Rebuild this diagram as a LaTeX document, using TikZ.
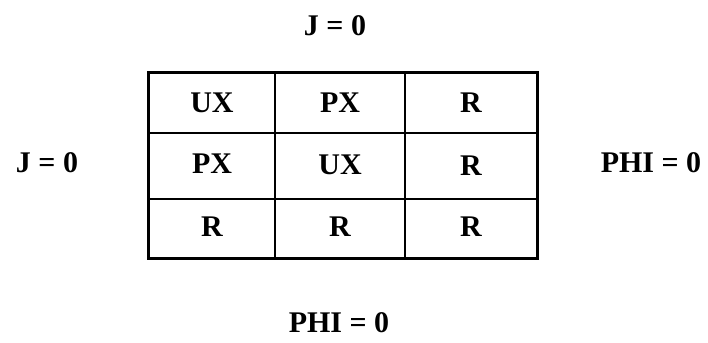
\documentclass[tikz,border=0pt]{standalone}
\usepackage{fontspec}
\setmainfont{Liberation Serif}
\begin{document}
\begin{tikzpicture}[x=1pt,y=-1pt,
  cell/.style={draw,line width=1.8pt,inner sep=0pt,text depth=0pt,
    font=\fontsize{30}{33}\selectfont\bfseries},
  bc/.style={inner sep=0pt,text depth=0pt,font=\fontsize{30}{33}\selectfont\bfseries}]
\useasboundingbox (0,0) rectangle (708,342);
% cells: columns 149-275-405-537, rows 73-133-199-258
\foreach \r/\ya/\yb in {1/73/133,2/133/199,3/199/258}{
  \foreach \c/\xa/\xb in {1/149/275,2/275/405,3/405/537}{
    \coordinate (p\r\c) at ({(\xa+\xb)/2},{(\ya+\yb)/2});
  }
}
\node[cell,minimum width=126pt,minimum height=60pt] (c11) at (p11) {UX};
\node[cell,minimum width=130pt,minimum height=60pt] (c12) at (p12) {PX};
\node[cell,minimum width=132pt,minimum height=60pt] (c13) at (p13) {R};
\node[cell,minimum width=126pt,minimum height=66pt] (c21) at (p21) {\raisebox{5pt}{PX}};
\node[cell,minimum width=130pt,minimum height=66pt] (c22) at (p22) {\raisebox{3pt}{UX}};
\node[cell,minimum width=132pt,minimum height=66pt] (c23) at (p23) {R};
\node[cell,minimum width=126pt,minimum height=59pt] (c31) at (p31) {\raisebox{3pt}{R}};
\node[cell,minimum width=130pt,minimum height=59pt] (c32) at (p32) {\raisebox{3pt}{R}};
\node[cell,minimum width=132pt,minimum height=59pt] (c33) at (p33) {\raisebox{3pt}{R}};
\draw[line width=2.6pt] (c11.north west) -- (c13.north east) -- (c33.south east) -- (c31.south west) -- cycle;
\node[bc] (top) at (335,26) {J = 0};
\node[bc] (left) at (47,163) {J = 0};
\node[bc] (right) at (651,163) {PHI = 0};
\node[bc] (bottom) at (339,323) {PHI = 0};
\end{tikzpicture}
\end{document}
